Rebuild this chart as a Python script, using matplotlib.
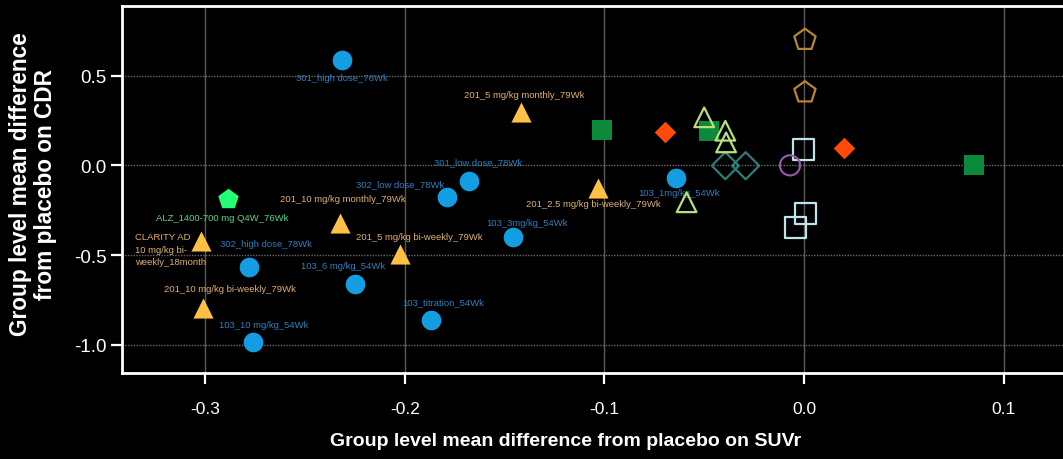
import matplotlib
matplotlib.use("Agg")
import matplotlib.pyplot as plt

plt.rcParams["axes.unicode_minus"] = False
plt.rcParams["font.family"] = ["Liberation Sans", "DejaVu Sans"]

# Labelled study arms: amyloid (SUVr) vs clinical (CDR) effect
circle_names = ["301_high dose_76Wk", "301_low dose_78Wk", "302_low dose_78Wk",
                "302_high dose_78Wk", "103_6 mg/kg_54Wk", "103_10 mg/kg_54Wk",
                "103_3mg/kg_54Wk", "103_titration_54Wk", "103_1mg/kg_54Wk"]
circle_suvr = [-0.2315, -0.168, -0.179, -0.278, -0.225, -0.276, -0.146, -0.187, -0.064]
circle_cdr = [0.587, -0.088, -0.177, -0.567, -0.662, -0.985, -0.400, -0.863, -0.071]

triangle_names = ["201_5 mg/kg monthly_79Wk", "201_10 mg/kg monthly_79Wk",
                  "201_5 mg/kg bi-weekly_79Wk", "201_2.5 mg/kg bi-weekly_79Wk",
                  "CLARITY AD\n10 mg/kg bi-\nweekly_18month", "201_10 mg/kg bi-weekly_79Wk"]
triangle_suvr = [-0.142, -0.2325, -0.2025, -0.103, -0.302, -0.301]
triangle_cdr = [0.297, -0.321, -0.495, -0.127, -0.422, -0.796]

alz_name = "ALZ_1400-700 mg Q4W_76Wk"
alz_suvr = [-0.2886]
alz_cdr = [-0.188]

# Unlabelled comparator arms
green_sq_suvr = [-0.101, -0.0476, 0.0852]
green_sq_cdr = [0.197, 0.191, 0.002]
red_dia_suvr = [-0.0698, 0.0202]
red_dia_cdr = [0.184, 0.095]
open_tri_suvr = [-0.050, -0.0394, -0.039, -0.0588]
open_tri_cdr = [0.268, 0.193, 0.128, -0.206]
teal_dia_suvr = [-0.0394, -0.0292]
teal_dia_cdr = [-0.002, -0.002]
purple_suvr = [-0.007]
purple_cdr = [0.0]
open_sq_suvr = [0.0, 0.001, -0.0044]
open_sq_cdr = [0.091, -0.268, -0.348]
pent_suvr = [0.0005, 0.0005]
pent_cdr = [0.700, 0.407]

x_ticks = [-0.3, -0.2, -0.1, 0.0, 0.1]
y_ticks = [-1.0, -0.5, 0.0, 0.5]

# label offsets in pixels (dx right, dy up) relative to each marker
circle_offsets = [(0, -17), (9, 19), (-47, 13), (17, 24), (-12, 19), (11, 17),
                  (14, 15), (12, 18), (3, -14)]
triangle_offsets = [(4, 18), (3, 24), (20, 18), (-5, -15), (-66, -8), (27, 20)]
alz_offset = (-6, -18)

DPI = 100
fig = plt.figure(figsize=(10.63, 4.60), dpi=DPI, facecolor="black")
ax = fig.add_axes([122 / 1063, 86 / 460, 944 / 1063, 367.5 / 460], facecolor="black")

ax.set_xlim(-0.3417, 0.1313)
ax.set_ylim(-1.158, 0.8915)

ax.set_xticks(x_ticks)
ax.set_xticklabels([f"{v:.1f}" for v in x_ticks])
ax.set_yticks(y_ticks)
ax.set_yticklabels([f"{v:.1f}" for v in y_ticks])

ax.xaxis.grid(True, color="#5a5a5a", lw=1.0, ls="-")
ax.yaxis.grid(True, color="#6a6a6a", lw=1.0, ls=(0, (1, 1)))
ax.set_axisbelow(True)

for side in ["left", "bottom", "top", "right"]:
    ax.spines[side].set_color("white")
    ax.spines[side].set_linewidth(2.0)

ax.tick_params(axis="x", colors="white", length=8, width=1.6, pad=12,
               labelsize=12.5)
ax.tick_params(axis="y", colors="white", length=8, width=1.6, pad=3,
               labelsize=13.5)

pt = 72.0 / DPI

ax.scatter(pent_suvr, pent_cdr, s=260, marker="p", facecolor="none",
           edgecolor="#b8862b", linewidth=1.6, zorder=3)
ax.scatter(open_sq_suvr, open_sq_cdr, s=230, marker="s", facecolor="none",
           edgecolor="#bfe3ea", linewidth=1.6, zorder=3)
ax.scatter(purple_suvr, purple_cdr, s=210, marker="o", facecolor="none",
           edgecolor="#9b59b6", linewidth=1.5, zorder=3)
ax.scatter(teal_dia_suvr, teal_dia_cdr, s=190, marker="D", facecolor="none",
           edgecolor="#2e7d78", linewidth=1.6, zorder=3)
ax.scatter(green_sq_suvr, green_sq_cdr, s=210, marker="s", color="#0b8a3b",
           linewidth=0, zorder=3)
ax.scatter(open_tri_suvr, open_tri_cdr, s=200, marker="^", facecolor="none",
           edgecolor="#b8e07a", linewidth=1.6, zorder=4)
ax.scatter(red_dia_suvr, red_dia_cdr, s=120, marker="D", color="#ff4a0a",
           linewidth=0, zorder=3)

ax.scatter(circle_suvr, circle_cdr, s=200, marker="o", color="#139de3",
           linewidth=0, zorder=3)
ax.scatter(triangle_suvr, triangle_cdr, s=210, marker="^", color="#ffc045",
           linewidth=0, zorder=3)
ax.scatter(alz_suvr, alz_cdr, s=240, marker="p", color="#22ff77",
           linewidth=0, zorder=3)

label_font = dict(fontsize=6.8, family=["Liberation Sans", "DejaVu Sans"])

for name, x, y, (dx, dy) in zip(circle_names, circle_suvr, circle_cdr, circle_offsets):
    ax.annotate(name, (x, y), xytext=(dx * pt, dy * pt), textcoords="offset points",
                ha="center", va="center", color="#2f7fc0", **label_font)

for name, x, y, (dx, dy) in zip(triangle_names, triangle_suvr, triangle_cdr,
                                triangle_offsets):
    multi = "\n" in name
    ax.annotate(name, (x, y), xytext=(dx * pt, dy * pt), textcoords="offset points",
                ha="left" if multi else "center", va="center", color="#e0b070",
                linespacing=1.5, **label_font)

ax.annotate(alz_name, (alz_suvr[0], alz_cdr[0]),
            xytext=(alz_offset[0] * pt, alz_offset[1] * pt), textcoords="offset points",
            ha="center", va="center", color="#55d884", **label_font)

ax.set_xlabel("Group level mean difference from placebo on SUVr", color="white",
              fontsize=14, fontweight="bold")
ax.xaxis.set_label_coords(0.470, -0.160)
ax.set_ylabel("Group level mean difference\nfrom placebo on CDR", color="white",
              fontsize=16.3, fontweight="bold", linespacing=1.1)
ax.yaxis.set_label_coords(-0.069, 0.516)

fig.savefig("out.png", dpi=DPI, facecolor="black")
